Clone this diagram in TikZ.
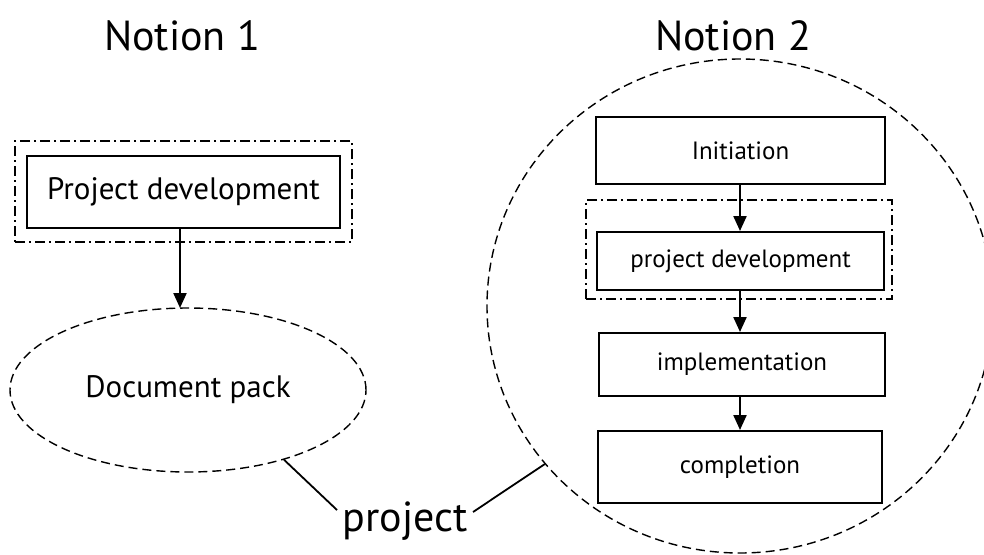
\documentclass[tikz,border=0pt]{standalone}
\usepackage{fontspec}
\setmainfont{PT Sans}
\usetikzlibrary{arrows.meta,shapes.geometric}
\tikzset{
  box/.style={draw, line width=2pt, minimum width=#1, inner sep=0pt},
  frame/.style={draw, line width=1.5pt, dash pattern=on 10pt off 4pt on 2pt off 4pt},
  dashline/.style={draw, line width=1.4pt, dash pattern=on 9pt off 5pt},
  arr/.style={line width=2.2pt, -{Triangle[width=13pt,length=15pt]}},
  lbl/.style={font=\fontsize{42}{48}\selectfont},
  big/.style={font=\fontsize{31}{36}\selectfont},
  small/.style={font=\fontsize{25}{30}\selectfont},
}
\begin{document}
\begin{tikzpicture}[x=1pt,y=-1pt]
\useasboundingbox (0,0) rectangle (984,554);
\clip (0,0) rectangle (984,554);
\fill[white] (0,0) rectangle (984,554);
% titles
\node[lbl] (n1) at (182,36) {Notion 1};
\node[lbl] (n2) at (733,36) {Notion 2};
% left
\node[frame, minimum width=337pt, minimum height=101pt] (f1) at (183.5,191.5) {};
\node[box=313pt, minimum height=72pt, big] (pd) at (183.5,191.5) {Project development};
\node[dashline, ellipse, minimum width=356pt, minimum height=164pt, big] (doc) at (188,390) {Document pack};
\draw[arr] (pd.south -| 180,0) -- (180,308);
% right circle
\node[dashline, ellipse, minimum width=506pt, minimum height=494pt] (circ) at (740,306) {};
\node[box=289pt, minimum height=67pt, small] (ini) at (740.5,150.5) {Initiation};
\node[frame, minimum width=306pt, minimum height=99pt] (f2) at (739,249.5) {};
\node[box=287pt, minimum height=58pt, small] (pd2) at (740.5,261) {project development};
\node[box=286pt, minimum height=63pt, small] (imp) at (742,364.5) {implementation};
\node[box=284pt, minimum height=72pt, small] (comp) at (740,467) {completion};
\draw[arr] (ini.south -| 740,0) -- (pd2.north -| 740,0);
\draw[arr] (pd2.south -| 740,0) -- (imp.north -| 740,0);
\draw[arr] (imp.south -| 740,0) -- (comp.north -| 740,0);
% project
\node[lbl, inner sep=0pt] (proj) at (405,521) {project};
\coordinate (pl) at (337,510);
\coordinate (pr) at (473,512);
\draw[line width=1.8pt] (doc.-36) -- (pl);
\draw[line width=1.8pt] (circ.-141) -- (pr);
\end{tikzpicture}
\end{document}
